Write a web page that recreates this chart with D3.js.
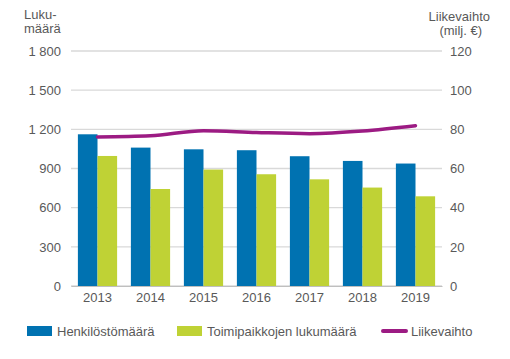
<!DOCTYPE html>
<html>
<head>
<meta charset="utf-8">
<script src="https://cdn.jsdelivr.net/npm/d3@7"></script>
<style>
  body { margin: 0; background: #fff; }
  svg { font-family: "Liberation Sans", Arial, sans-serif; }
</style>
</head>
<body>
<div id="chart"></div>
<script>
const years = ["2013", "2014", "2015", "2016", "2017", "2018", "2019"];
const henkilosto = [1162, 1060, 1047, 1040, 994, 958, 938];
const toimipaikat = [996, 743, 892, 856, 817, 754, 687];
const liikevaihto = [76.1, 76.7, 79.3, 78.4, 77.8, 79.1, 81.8];
const leftTicks = [0, 300, 600, 900, 1200, 1500, 1800];
const rightTicks = [0, 20, 40, 60, 80, 100, 120];

const width = 510, height = 359;
const margin = { top: 51, right: 68, bottom: 73, left: 71 };
const innerW = width - margin.left - margin.right;
const innerH = height - margin.top - margin.bottom;
const textColor = "#595959";
const colors = { blue: "#0072b1", green: "#bfd235", purple: "#9c1b83" };
const fmt = v => d3.format(",")(v).replace(/,/g, " ");

const svg = d3.select("#chart").append("svg")
  .attr("width", width)
  .attr("height", height);

const g = svg.append("g").attr("transform", `translate(${margin.left},${margin.top})`);

const x = d3.scaleBand().domain(years).range([0, innerW]).paddingInner(0.26).paddingOuter(0.13);
const xSub = d3.scaleBand().domain(["h", "t"]).range([0, x.bandwidth()]);
const yL = d3.scaleLinear().domain([0, 1800]).range([innerH, 0]);
const yR = d3.scaleLinear().domain([0, 120]).range([innerH, 0]);

// gridlines
g.append("g")
  .selectAll("line")
  .data(leftTicks)
  .join("line")
  .attr("x1", 0).attr("x2", innerW)
  .attr("y1", d => yL(d)).attr("y2", d => yL(d))
  .attr("stroke", "#d9d9d9").attr("stroke-width", 1.3);

// left axis
g.append("g")
  .call(d3.axisLeft(yL).tickValues(leftTicks).tickSize(0).tickPadding(10).tickFormat(fmt))
  .call(a => a.select(".domain").remove())
  .selectAll("text")
  .attr("font-size", 13).attr("fill", textColor);

// right axis
g.append("g")
  .attr("transform", `translate(${innerW},0)`)
  .call(d3.axisRight(yR).tickValues(rightTicks).tickSize(0).tickPadding(8))
  .call(a => a.select(".domain").remove())
  .selectAll("text")
  .attr("font-size", 13).attr("fill", textColor);

// bars
const groups = g.append("g")
  .selectAll("g")
  .data(years)
  .join("g")
  .attr("transform", d => `translate(${x(d)},0)`);

groups.append("rect")
  .attr("x", xSub("h"))
  .attr("width", xSub.bandwidth())
  .attr("y", (d, i) => yL(henkilosto[i]))
  .attr("height", (d, i) => innerH - yL(henkilosto[i]))
  .attr("fill", colors.blue);

groups.append("rect")
  .attr("x", xSub("t"))
  .attr("width", xSub.bandwidth())
  .attr("y", (d, i) => yL(toimipaikat[i]))
  .attr("height", (d, i) => innerH - yL(toimipaikat[i]))
  .attr("fill", colors.green);

// line
const line = d3.line()
  .x((d, i) => x(years[i]) + x.bandwidth() / 2)
  .y(d => yR(d))
  .curve(d3.curveMonotoneX);

g.append("path")
  .datum(liikevaihto)
  .attr("d", line)
  .attr("fill", "none")
  .attr("stroke", colors.purple)
  .attr("stroke-width", 3.5)
  .attr("stroke-linecap", "round");

// x axis
g.append("g")
  .attr("transform", `translate(0,${innerH})`)
  .call(d3.axisBottom(x).tickSize(0).tickPadding(7))
  .call(a => a.select(".domain").attr("stroke", "#bfbfbf"))
  .selectAll("text")
  .attr("font-size", 13).attr("fill", textColor);

// axis titles
const leftTitle = svg.append("text")
  .attr("font-size", 13).attr("fill", textColor);
leftTitle.append("tspan").attr("x", 24).attr("y", 19).text("Luku-");
leftTitle.append("tspan").attr("x", 24).attr("y", 33).text("määrä");

const rightTitle = svg.append("text")
  .attr("text-anchor", "end").attr("font-size", 13).attr("fill", textColor);
rightTitle.append("tspan").attr("x", 490).attr("y", 21).text("Liikevaihto");
rightTitle.append("tspan").attr("x", 482).attr("y", 35).text("(milj. €)");

// legend
const legend = svg.append("g").attr("transform", "translate(0,332)");
const legendItems = [
  { label: "Henkilöstömäärä", color: colors.blue, type: "rect", x: 27 },
  { label: "Toimipaikkojen lukumäärä", color: colors.green, type: "rect", x: 177 },
  { label: "Liikevaihto", color: colors.purple, type: "line", x: 381 }
];
legendItems.forEach(item => {
  if (item.type === "rect") {
    legend.append("rect")
      .attr("x", item.x).attr("y", -6).attr("width", 25).attr("height", 10)
      .attr("fill", item.color);
  } else {
    legend.append("line")
      .attr("x1", item.x + 2).attr("x2", item.x + 25).attr("y1", -1).attr("y2", -1)
      .attr("stroke", item.color).attr("stroke-width", 4).attr("stroke-linecap", "round");
  }
  legend.append("text")
    .attr("x", item.x + 30).attr("y", 4)
    .attr("font-size", 13).attr("fill", textColor)
    .text(item.label);
});
</script>
</body>
</html>
